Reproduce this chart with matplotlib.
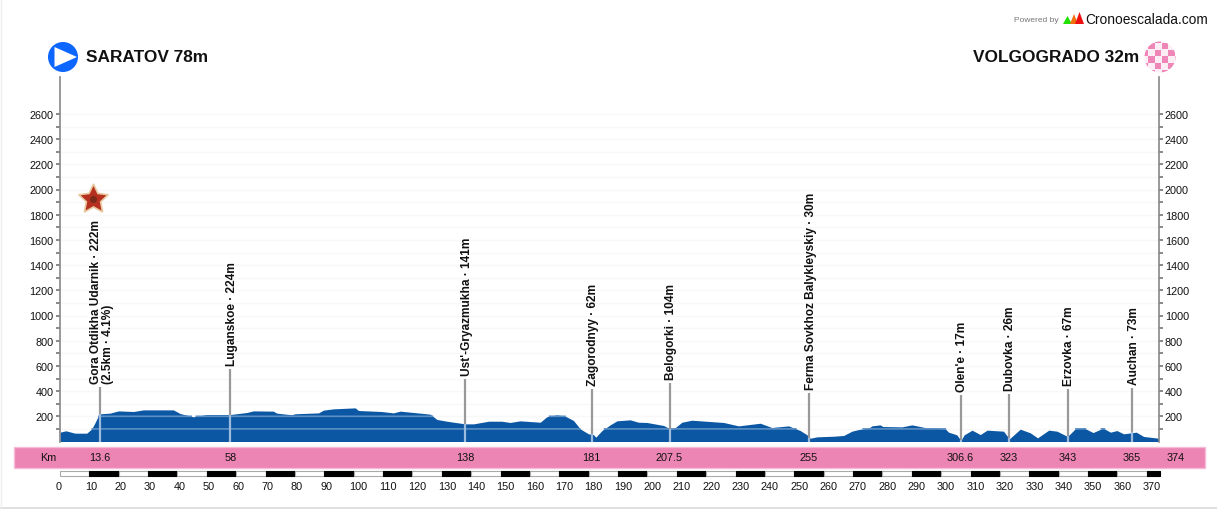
import numpy as np
from matplotlib import pyplot as plt
from matplotlib.patches import Circle, Polygon, Rectangle
from matplotlib.transforms import blended_transform_factory

plt.rcParams['font.family'] = ['Liberation Sans', 'DejaVu Sans']

W, H = 1217, 510
X0, X1 = 60.0, 1158.6   # pixel position of km 0 and km 374
Y_BASE, Y_TOP = 442.5, 78.0
PX_PER_M = 0.126

km = [0, 2, 5.1, 9.1, 10.8, 11.9, 13.1, 13.8, 17, 19.9, 25, 28.4, 38.6, 40.9, 45.4, 49.9, 57.9, 63.6, 65.8, 72.6,
      73.8, 78.9, 80, 88, 89.7, 93, 100.5, 101.6, 109.5, 113.5, 115.8,
      126, 128.3, 131.7, 137.9, 140.8, 145.9, 150.4, 153.2, 156.6, 163.5, 165.7, 169.1, 172, 174.8, 177.1, 179.9,
      181.6, 182.4, 184.5, 187.3, 189.6, 194.1, 196.9, 199.8, 205.5, 207.7, 208.9, 211.7, 215.1, 225.9, 231, 238.4,
      242.3, 248,
      252, 254.3, 255.4, 257.7, 263.4, 266.8, 269.6, 271.9, 275.3, 276.4, 279.2, 280.1, 286.6, 290, 295.1, 301.4,
      302.5, 305.3, 306.7, 307.8, 310.5, 313.3, 315.6, 321.2, 323.2, 326.9, 330.3, 332.8, 336.6, 339.4, 343, 345.6,
      348.5, 351.7, 355.1, 357.6, 359.8, 362.1, 366.4, 368.9, 374]
elev = [74, 85, 66, 66, 100, 148, 206, 220, 225, 243, 238, 251, 251, 222, 196, 214, 214, 230, 243, 241,
        225, 212, 220, 227, 249, 259, 267, 246, 238, 227, 241,
        217, 175, 161, 140, 140, 161, 161, 151, 164, 153, 196, 212, 201, 167, 100, 61,
        55, 34, 87, 132, 164, 172, 153, 151, 127, 100, 100, 153, 169, 151, 124, 145,
        111, 124,
        87, 53, 26, 37, 42, 48, 82, 95, 106, 124, 132, 119, 116, 132, 108, 100,
        74, 53, 8, 53, 90, 55, 90, 82, 21, 98, 69, 29, 90, 82, 40, 100,
        108, 71, 106, 74, 87, 61, 74, 40, 26]

pole_km = [13.6, 58, 138, 181, 207.5, 255, 306.6, 323, 343, 365]
pole_elev = [220, 214, 140, 58, 100, 30, 10, 26, 45, 73]
pole_top = [432, 575, 496, 417, 465, 385, 369, 377, 417, 425]
pole_names = ["Gora Otdikha Udarnik · 222m\n(2.5km · 4.1%)", "Luganskoe · 224m", "Ust'-Gryazmukha · 141m",
              "Zagorodnyy · 62m", "Belogorki · 104m", "Ferma Sovkhoz Balykleyskiy · 30m", "Olen'e · 17m",
              "Dubovka · 26m", "Erzovka · 67m", "Auchan · 73m"]
strip_km = [13.6, 58, 138, 181, 207.5, 255, 306.6, 323, 343, 365]
strip_labels = ["13.6", "58", "138", "181", "207.5", "255", "306.6", "323", "343", "365"]
total_km = 374

y_ticks = list(range(200, 2800, 200))
y_minor = list(range(100, 2700, 200))
scale_ticks = list(range(0, 380, 10))

fig = plt.figure(figsize=(W / 100, H / 100), dpi=100)

# overlay in pixel coordinates for everything that is page layout
page = fig.add_axes([0, 0, 1, 1], zorder=0)
page.set_xlim(0, W)
page.set_ylim(H, 0)
page.axis("off")

ax = fig.add_axes([X0 / W, 1 - Y_BASE / H, (X1 - X0) / W, (Y_BASE - Y_TOP) / H], zorder=1)
ax.patch.set_alpha(0)
ax.set_xlim(0, total_km)
ax.set_ylim(0, (Y_BASE - Y_TOP) / PX_PER_M)

for s in ["top", "bottom"]:
    ax.spines[s].set_visible(False)
for s in ["left", "right"]:
    ax.spines[s].set_color("#888888")
    ax.spines[s].set_linewidth(1.2)

ax.set_xticks([])
ax.set_yticks(y_ticks)
ax.set_yticks(y_minor, minor=True)
ax.tick_params(axis="y", which="both", left=True, right=True, labelleft=True, labelright=True,
               length=3, width=1.4, color="#888888", labelsize=7.8, labelcolor="#111111", pad=1.5)

for y in y_ticks + y_minor:
    ax.axhline(y, color="#f8f8f8", lw=1, zorder=1)

ax.fill_between(km, 0, elev, color="#0b57a4", lw=0, zorder=2)

# the light bands only show through the profile
for y in [100, 200]:
    xs = np.linspace(0, total_km, 1500)
    ys = np.where(np.interp(xs, km, elev) >= y, y, np.nan)
    ax.plot(xs, ys, color="#5c8fc4", lw=1.2, zorder=3)

trans = blended_transform_factory(ax.transData, page.transData)
for k, e, t, name in zip(pole_km, pole_elev, pole_top, pole_names):
    ax.plot([k, k], [e, t], color="#999999", lw=1.6, zorder=4, solid_capstyle="butt")
    ax.plot([k, k], [0, e], color="#9dbbdc", lw=1.6, zorder=4, solid_capstyle="butt")
    ax.annotate(name, (k, t), xytext=(1.2, 3), textcoords="offset points", rotation=90, ha="center", va="bottom",
                fontsize=8.55, fontweight="bold", color="#111111", linespacing=1.0, multialignment="left",
                annotation_clip=False, zorder=5)

# km strip
page.add_patch(Rectangle((14, 447.5), 1191, 21, facecolor="#ec84b4", edgecolor="#f4bcd6", lw=1))
page.text(48, 458.5, "Km", ha="center", va="center", fontsize=7.8, color="#111111")
for k, lab in zip(strip_km, strip_labels):
    page.text(k, 458.5, lab, transform=trans, ha="center", va="center", fontsize=7.8, color="#111111")
page.annotate(str(total_km), (total_km, 458.5), xycoords=trans, xytext=(12, 0), textcoords="offset points",
              ha="center", va="center", fontsize=7.8, color="#111111")

# scale bar
for i, k in enumerate(scale_ticks):
    end = min(k + 10, total_km + 0.4)
    black = i % 2 == 1
    page.add_patch(Rectangle((k, 472), end - k, 5, transform=trans, facecolor="black" if black else "white",
                             edgecolor="black" if black else "#aaaaaa", lw=0.8))
    page.annotate(str(k), (k, 487), xycoords=trans, xytext=(-3, 0), textcoords="offset points",
                  ha="left", va="center", fontsize=7.8, color="#111111")

# start / finish headers
page.add_patch(Circle((63, 58), 15, facecolor="#0d66ff", edgecolor="none"))
page.add_patch(Polygon([(54.5, 48), (54.5, 68), (77, 58)], facecolor="white", edgecolor="none"))
page.text(86.5, 57.5, "SARATOV 78m", ha="left", va="center", fontsize=12.4, fontweight="bold", color="#111111")
page.text(1139, 57.5, "VOLGOGRADO 32m", ha="right", va="center", fontsize=12.4, fontweight="bold", color="#111111")

disc = Circle((1160, 58), 15.5, facecolor="#fdeef5", edgecolor="none")
page.add_patch(disc)
for r in range(6):
    for c in range(6):
        if (r + c) % 2 == 0:
            sq = Rectangle((1141.6 + c * 6.7, 37.3 + r * 6.7), 6.2, 6.2, facecolor="#ee86b8", edgecolor="none")
            page.add_patch(sq)
            sq.set_clip_path(disc)

# brand
page.text(1014, 20.5, "Powered by", ha="left", va="center", fontsize=6, color="#777777")
page.add_patch(Polygon([(1063, 25), (1067.5, 17), (1072, 25)], facecolor="#22e000", edgecolor="none"))
page.add_patch(Polygon([(1070, 25), (1074, 15), (1078, 25)], facecolor="#f07010", edgecolor="none"))
page.add_patch(Polygon([(1075, 25), (1079.5, 13), (1084, 25)], facecolor="#ee1010", edgecolor="none"))
page.text(1085, 20, "Cronoescalada.com", ha="left", va="center", fontsize=9.95, color="#111111")

# summit star, above the grid lines of the main axes
angles = np.deg2rad(-90 + 36 * np.arange(10))
radii = np.where(np.arange(10) % 2 == 0, 15.5, 7.5)
star_xy = np.c_[93.5 + radii * np.cos(angles), 200.5 + radii * np.sin(angles)]
ax.add_patch(Polygon(star_xy, transform=page.transData, facecolor="#b5301f", edgecolor="#e8c9a0", lw=1.2,
                     zorder=6, clip_on=False))
ax.add_patch(Circle((93.5, 200.5), 3.5, transform=page.transData, facecolor="#7a2a18", edgecolor="none",
                    zorder=7, clip_on=False))

# page edge
page.plot([0, W], [508.5, 508.5], color="#e0e0e0", lw=1.5)
page.plot([0.5, 0.5], [0, 508], color="#eeeeee", lw=1)

fig.savefig("out.png", dpi=100)
